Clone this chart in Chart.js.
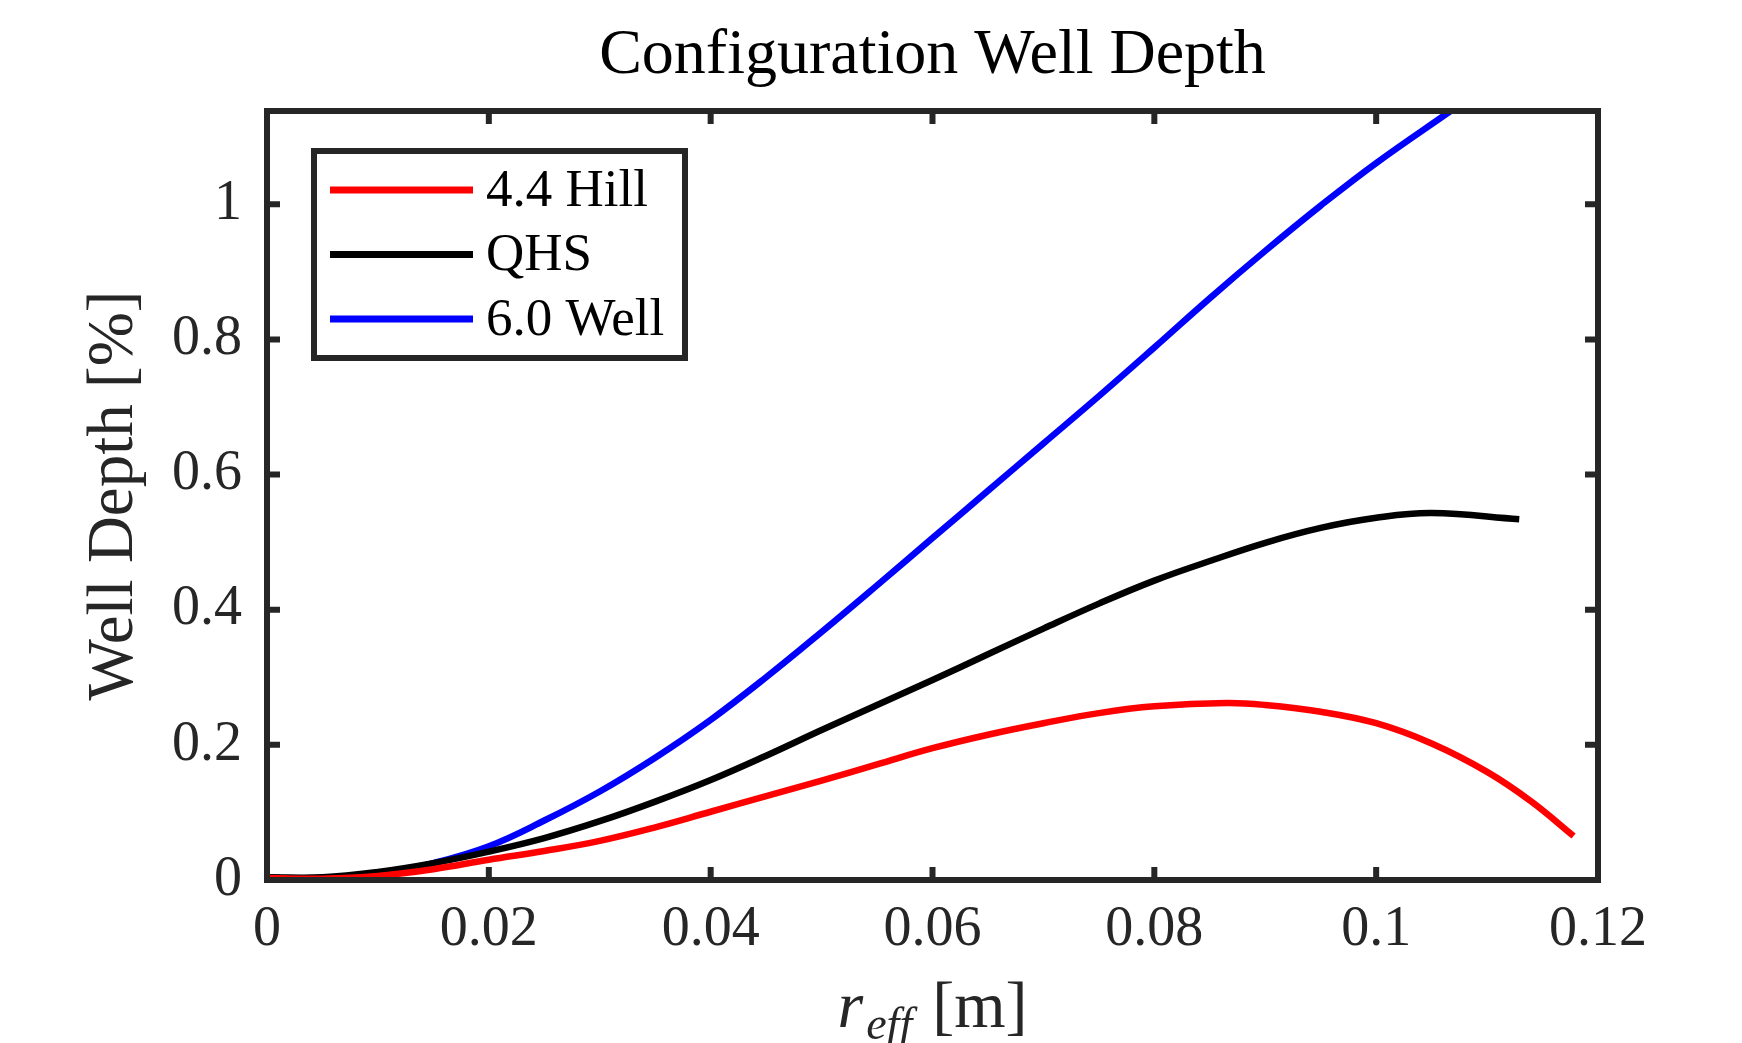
<!DOCTYPE html>
<html>
<head>
<meta charset="utf-8">
<title>Configuration Well Depth</title>
<script src="https://cdn.jsdelivr.net/npm/chart.js@4.4.1/dist/chart.umd.min.js"></script>
<style>
    html, body { margin: 0; padding: 0; background: #fff; }
    #wrap { width: 1742px; height: 1043px; }
</style>
</head>
<body>
<div id="wrap"><canvas id="wellChart" width="1742" height="1043"></canvas></div>
<script>
//! data
const hillR     = [0, 0.005, 0.01, 0.015, 0.02, 0.025, 0.03, 0.035, 0.04, 0.045, 0.05, 0.055, 0.06, 0.065, 0.07, 0.075, 0.08, 0.0865, 0.09, 0.095, 0.1, 0.105, 0.11, 0.114, 0.1178];
const hillDepth = [0.003, 0.002, 0.006, 0.016, 0.030, 0.043, 0.058, 0.078, 0.101, 0.124, 0.147, 0.171, 0.195, 0.215, 0.232, 0.247, 0.257, 0.262, 0.259, 0.249, 0.232, 0.202, 0.160, 0.116, 0.065];

const qhsR      = [0, 0.005, 0.01, 0.015, 0.02, 0.025, 0.03, 0.035, 0.04, 0.045, 0.05, 0.055, 0.06, 0.065, 0.07, 0.075, 0.08, 0.085, 0.09, 0.095, 0.1, 0.105, 0.1129];
const qhsDepth  = [0.004, 0.004, 0.012, 0.025, 0.042, 0.062, 0.087, 0.116, 0.148, 0.184, 0.222, 0.259, 0.296, 0.334, 0.372, 0.409, 0.443, 0.472, 0.499, 0.521, 0.536, 0.543, 0.534];

const wellR     = [0, 0.005, 0.01, 0.015, 0.02, 0.025, 0.03, 0.035, 0.04, 0.045, 0.05, 0.055, 0.06, 0.065, 0.07, 0.075, 0.08, 0.085, 0.09, 0.095, 0.1, 0.1068];
const wellDepth = [0.004, 0.001, 0.008, 0.025, 0.050, 0.088, 0.131, 0.181, 0.237, 0.300, 0.367, 0.436, 0.506, 0.576, 0.646, 0.716, 0.788, 0.861, 0.931, 0.998, 1.061, 1.139];

const seriesNames = ['4.4 Hill', 'QHS', '6.0 Well'];
const xTicks = [0, 0.02, 0.04, 0.06, 0.08, 0.1, 0.12];
const yTicks = [0, 0.2, 0.4, 0.6, 0.8, 1];

const AXIS_COLOR = '#262626';
const SERIF = '"Liberation Serif", "DejaVu Serif", serif';

function toPoints(xs, ys) {
    return xs.map((x, i) => ({ x: x, y: ys[i] }));
}

//! frame + inward ticks (box on)
const framePlugin = {
    id: 'frame',
    afterDatasetsDraw(chart) {
        const { ctx, chartArea: a, scales: { x, y } } = chart;
        const len = 13;
        ctx.save();
        ctx.strokeStyle = AXIS_COLOR;
        ctx.lineWidth = 6;
        ctx.beginPath();
        xTicks.forEach(v => {
            const px = x.getPixelForValue(v);
            ctx.moveTo(px, a.bottom); ctx.lineTo(px, a.bottom - len);
            ctx.moveTo(px, a.top); ctx.lineTo(px, a.top + len);
        });
        yTicks.forEach(v => {
            const py = y.getPixelForValue(v);
            ctx.moveTo(a.left, py); ctx.lineTo(a.left + len, py);
            ctx.moveTo(a.right, py); ctx.lineTo(a.right - len, py);
        });
        ctx.stroke();
        ctx.lineJoin = 'miter';
        ctx.strokeRect(a.left, a.top, a.right - a.left, a.bottom - a.top);
        ctx.restore();
    }
};

//! legend box in the upper left
const legendPlugin = {
    id: 'boxLegend',
    afterDraw(chart) {
        const { ctx, chartArea: a } = chart;
        const bx = a.left + 47, by = a.top + 40, bw = 371, bh = 207;
        ctx.save();
        ctx.fillStyle = '#fff';
        ctx.fillRect(bx, by, bw, bh);
        ctx.strokeStyle = AXIS_COLOR;
        ctx.lineWidth = 6;
        ctx.strokeRect(bx, by, bw, bh);
        ctx.font = '53px ' + SERIF;
        ctx.textBaseline = 'middle';
        ctx.textAlign = 'left';
        chart.data.datasets.forEach((ds, i) => {
            const ly = by + 39 + i * 64.5;
            ctx.strokeStyle = ds.borderColor;
            ctx.lineWidth = 7;
            ctx.beginPath();
            ctx.moveTo(bx + 16, ly);
            ctx.lineTo(bx + 159, ly);
            ctx.stroke();
            ctx.fillStyle = '#000';
            ctx.fillText(ds.label, bx + 172, ly + 2);
        });
        ctx.restore();
    }
};

//! title and x label (with subscript)
const labelsPlugin = {
    id: 'labels',
    afterDraw(chart) {
        const { ctx, chartArea: a } = chart;
        const cx = (a.left + a.right) / 2;
        ctx.save();
        ctx.fillStyle = '#000';
        ctx.textBaseline = 'middle';
        ctx.textAlign = 'center';
        ctx.font = '64px ' + SERIF;
        ctx.fillText('Configuration Well Depth', cx, 56);

        // r_eff [m]
        ctx.fillStyle = AXIS_COLOR;
        ctx.textBaseline = 'alphabetic';
        ctx.textAlign = 'left';
        const base = 1027;
        const bigIt = 'italic 66px ' + SERIF;
        const subIt = 'italic 46px ' + SERIF;
        const big = '66px ' + SERIF;
        ctx.font = bigIt; const wR = ctx.measureText('r').width;
        ctx.font = subIt; const wSub = ctx.measureText('eff').width;
        ctx.font = big; const wUnit = ctx.measureText('[m]').width;
        const gap = 20;
        let x0 = cx - (wR + 3 + wSub + gap + wUnit) / 2;
        ctx.font = bigIt; ctx.fillText('r', x0, base);
        x0 += wR + 3;
        ctx.font = subIt; ctx.fillText('eff', x0, base + 12);
        x0 += wSub + gap;
        ctx.font = big; ctx.fillText('[m]', x0, base);
        ctx.restore();
    }
};

const ctx = document.getElementById('wellChart');
const colors = ['#FF0000', '#000000', '#0000FF'];
const wellChart = new Chart(ctx, {
    type: 'line',
    data: {
        datasets: [
            { label: seriesNames[0], data: toPoints(hillR, hillDepth), borderColor: colors[0] },
            { label: seriesNames[1], data: toPoints(qhsR, qhsDepth), borderColor: colors[1] },
            { label: seriesNames[2], data: toPoints(wellR, wellDepth), borderColor: colors[2] },
        ]
    },
    options: {
        responsive: false,
        animation: false,
        parsing: false,
        elements: {
            point: { radius: 0 },
            line: { borderWidth: 6.5, tension: 0.4, fill: false },
        },
        layout: { padding: { top: 111, right: 144, bottom: 0, left: 0 } },
        plugins: {
            legend: { display: false },
            title: { display: false },
            tooltip: { enabled: false },
        },
        scales: {
            x: {
                type: 'linear',
                min: 0,
                max: 0.12,
                grid: { display: false, drawTicks: false },
                border: { display: false },
                afterBuildTicks: (scale) => { scale.ticks = xTicks.map(v => ({ value: v })); },
                afterFit: (scale) => { scale.height = 163; },
                ticks: {
                    color: AXIS_COLOR,
                    font: { family: SERIF, size: 56 },
                    padding: 17,
                    maxRotation: 0,
                    autoSkip: false,
                    callback: (v) => String(+v.toFixed(2)),
                },
            },
            y: {
                type: 'linear',
                min: 0,
                max: 1.138,
                grid: { display: false, drawTicks: false },
                border: { display: false },
                afterBuildTicks: (scale) => { scale.ticks = yTicks.map(v => ({ value: v })); },
                afterFit: (scale) => { scale.width = 267; },
                title: {
                    display: true,
                    text: 'Well Depth [%]',
                    color: AXIS_COLOR,
                    font: { family: SERIF, size: 65 },
                    padding: { top: 76, bottom: 0 },
                },
                ticks: {
                    color: AXIS_COLOR,
                    font: { family: SERIF, size: 56 },
                    padding: 25,
                    autoSkip: false,
                    callback: (v) => String(+v.toFixed(2)),
                },
            },
        },
    },
    plugins: [framePlugin, legendPlugin, labelsPlugin],
});
</script>
</body>
</html>
